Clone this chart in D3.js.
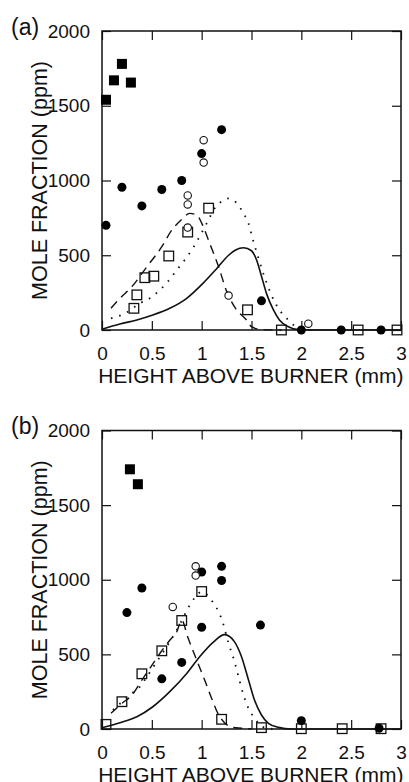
<!DOCTYPE html>
<html>
<head>
<meta charset="utf-8">
<script src="https://cdn.jsdelivr.net/npm/d3@7"></script>
<style>
  body { margin: 0; background: #fff; }
  text { font-family: "Liberation Sans", Arial, Helvetica, sans-serif; fill: #111; }
</style>
</head>
<body>
<div id="chart"></div>
<script>
// axis ticks shared by both panels
const xTicks = [0, 0.5, 1, 1.5, 2, 2.5, 3];
const yTicks = [0, 500, 1000, 1500, 2000];

// panel (a) measured points, [height mm, ppm]
const aFilledSquares = [[0.04, 1540], [0.12, 1670], [0.2, 1780], [0.29, 1655]];
const aFilledCircles = [[0.04, 700], [0.2, 955], [0.4, 830], [0.6, 940], [0.8, 1000], [1.0, 1180],
  [1.2, 1340], [1.6, 195], [2.0, 0], [2.4, 0], [2.8, 0]];
const aOpenCircles = [[0.86, 900], [0.86, 840], [0.86, 685], [1.02, 1270], [1.02, 1120], [1.27, 230], [2.07, 42]];
const aOpenSquares = [[0.32, 145], [0.35, 235], [0.43, 350], [0.52, 360], [0.67, 495], [0.86, 655],
  [1.07, 815], [1.46, 135], [1.8, 0], [2.57, 0], [2.96, 0]];

// panel (a) model curves
const aSolid = [[0, 5], [0.18, 40], [0.35, 67], [0.51, 100], [0.68, 145], [0.85, 212], [1.01, 310],
  [1.15, 410], [1.27, 500], [1.34, 535], [1.42, 550], [1.5, 530], [1.55, 470], [1.6, 360], [1.65, 245],
  [1.72, 134], [1.78, 67], [1.87, 22], [1.97, 3], [2.1, 0], [3, 0]];
const aDotted = [[0.09, 78], [0.23, 111], [0.38, 178], [0.48, 212], [0.58, 267], [0.66, 323], [0.75, 401],
  [0.83, 468], [0.9, 535], [0.95, 590], [1.05, 713], [1.13, 813], [1.2, 860], [1.27, 880], [1.35, 850],
  [1.42, 780], [1.47, 713], [1.52, 590], [1.55, 523], [1.63, 356], [1.7, 234], [1.75, 167], [1.82, 100],
  [1.89, 56], [1.94, 22], [2.0, 5], [2.1, 0]];
const aDashed = [[0.09, 145], [0.18, 212], [0.3, 290], [0.45, 423], [0.6, 557], [0.7, 668], [0.8, 740],
  [0.88, 780], [0.95, 770], [1.0, 715], [1.08, 580], [1.17, 423], [1.25, 260], [1.34, 145], [1.45, 67],
  [1.5, 22], [1.6, 3], [1.8, 0]];

// panel (b) measured points
const bFilledSquares = [[0.28, 1740], [0.36, 1640]];
const bFilledCircles = [[0.25, 780], [0.4, 945], [0.6, 336], [0.8, 446], [1.0, 1052], [1.0, 682],
  [1.2, 1090], [1.2, 995], [1.59, 696], [2.0, 56], [2.78, 5]];
const bOpenCircles = [[0.94, 1090], [0.94, 1028], [0.71, 818]];
const bOpenSquares = [[0.04, 31], [0.2, 183], [0.4, 370], [0.6, 524], [0.8, 727], [1.0, 921],
  [1.2, 65], [1.6, 9], [2.0, 2], [2.41, 2], [2.8, 2]];

// panel (b) model curves
const bSolid = [[0, 8], [0.18, 42], [0.35, 82], [0.51, 149], [0.68, 250], [0.85, 372], [0.98, 484],
  [1.12, 584], [1.23, 632], [1.33, 584], [1.4, 484], [1.47, 328], [1.53, 194], [1.6, 94], [1.67, 38],
  [1.77, 11], [1.9, 0], [3, 0]];
const bDotted = [[0.11, 127], [0.3, 239], [0.38, 283], [0.45, 350], [0.56, 462], [0.68, 584], [0.78, 700],
  [0.88, 829], [1.0, 918], [1.11, 852], [1.17, 785], [1.21, 718], [1.27, 573], [1.32, 473], [1.37, 350],
  [1.42, 227], [1.47, 138], [1.52, 82], [1.57, 38], [1.65, 5], [1.75, 0]];
const bDashed = [[0.09, 105], [0.2, 172], [0.3, 227], [0.4, 328], [0.48, 406], [0.58, 506], [0.68, 595],
  [0.75, 651], [0.8, 729], [0.86, 617], [0.95, 462], [1.03, 328], [1.1, 205], [1.17, 95], [1.22, 49],
  [1.3, 12], [1.4, 5], [1.5, 0]];

var svg = d3.select("#chart").append("svg")
  .attr("width", 409)
  .attr("height", 782);

var left = 102, right = 401;

// Draws one panel; top / bottom are the pixel rows of 2000 and 0 ppm
function drawPanel(label, top, bottom, filledSquares, filledCircles, openCircles, openSquares, solid, dotted, dashed) {
  var x = d3.scaleLinear().domain([0, 3]).range([left, right]);
  var y = d3.scaleLinear().domain([0, 2000]).range([bottom, top]);
  var g = svg.append("g");

  // inward ticks on all four sides, labels only on bottom and left
  g.append("g").attr("transform", "translate(0," + bottom + ")")
    .call(d3.axisBottom(x).tickValues(xTicks).tickSizeInner(-9).tickSizeOuter(0).tickPadding(17)
      .tickFormat(d3.format("")));
  g.append("g").attr("transform", "translate(0," + top + ")")
    .call(d3.axisTop(x).tickValues(xTicks).tickSizeInner(-9).tickSizeOuter(0).tickFormat(""));
  g.append("g").attr("transform", "translate(" + left + ",0)")
    .call(d3.axisLeft(y).tickValues(yTicks).tickSizeInner(-9).tickSizeOuter(0).tickPadding(12)
      .tickFormat(d3.format("d")));
  g.append("g").attr("transform", "translate(" + right + ",0)")
    .call(d3.axisRight(y).tickValues(yTicks).tickSizeInner(-9).tickSizeOuter(0).tickFormat(""));

  g.selectAll(".domain").remove();
  g.selectAll(".tick line").attr("stroke", "#111").attr("stroke-width", 1.2);
  g.selectAll(".tick text").style("font-size", "19px").attr("fill", "#111");

  // frame
  g.append("rect")
    .attr("x", left).attr("y", top)
    .attr("width", right - left).attr("height", bottom - top)
    .attr("fill", "none").attr("stroke", "#111").attr("stroke-width", 1.5);

  var line = d3.line()
    .x(d => x(d[0]))
    .y(d => y(d[1]))
    .curve(d3.curveMonotoneX);

  g.append("path").datum(solid).attr("d", line)
    .attr("fill", "none").attr("stroke", "#111").attr("stroke-width", 1.6);
  g.append("path").datum(dotted).attr("d", line)
    .attr("fill", "none").attr("stroke", "#111").attr("stroke-width", 1.8)
    .attr("stroke-dasharray", "1.6,7");
  g.append("path").datum(dashed).attr("d", line)
    .attr("fill", "none").attr("stroke", "#111").attr("stroke-width", 1.4)
    .attr("stroke-dasharray", "9,6");

  // markers
  g.selectAll(".osq").data(openSquares).enter().append("rect")
    .attr("x", d => x(d[0]) - 4.8).attr("y", d => y(d[1]) - 4.8)
    .attr("width", 9.6).attr("height", 9.6)
    .attr("fill", "none").attr("stroke", "#111").attr("stroke-width", 1.3);
  g.selectAll(".fsq").data(filledSquares).enter().append("rect")
    .attr("x", d => x(d[0]) - 5).attr("y", d => y(d[1]) - 5)
    .attr("width", 10).attr("height", 10)
    .attr("fill", "#000");
  g.selectAll(".fci").data(filledCircles).enter().append("circle")
    .attr("cx", d => x(d[0])).attr("cy", d => y(d[1])).attr("r", 4.5)
    .attr("fill", "#000");
  g.selectAll(".oci").data(openCircles).enter().append("circle")
    .attr("cx", d => x(d[0])).attr("cy", d => y(d[1])).attr("r", 3.7)
    .attr("fill", "#fff").attr("stroke", "#111").attr("stroke-width", 1.1);

  // axis titles and panel label
  g.append("text")
    .attr("x", 250.8).attr("y", bottom + 53.3)
    .attr("text-anchor", "middle")
    .style("font-size", "21px")
    .text("HEIGHT ABOVE BURNER (mm)");
  g.append("text")
    .attr("transform", "translate(46.5," + ((top + bottom) / 2) + ") rotate(-90)")
    .attr("text-anchor", "middle")
    .style("font-size", "21.5px")
    .text("MOLE FRACTION (ppm)");
  g.append("text")
    .attr("x", 11).attr("y", top + 3.5)
    .style("font-size", "23px")
    .text(label);
}

drawPanel("(a)", 31, 330, aFilledSquares, aFilledCircles, aOpenCircles, aOpenSquares, aSolid, aDotted, aDashed);
drawPanel("(b)", 430.5, 729, bFilledSquares, bFilledCircles, bOpenCircles, bOpenSquares, bSolid, bDotted, bDashed);
</script>
</body>
</html>
